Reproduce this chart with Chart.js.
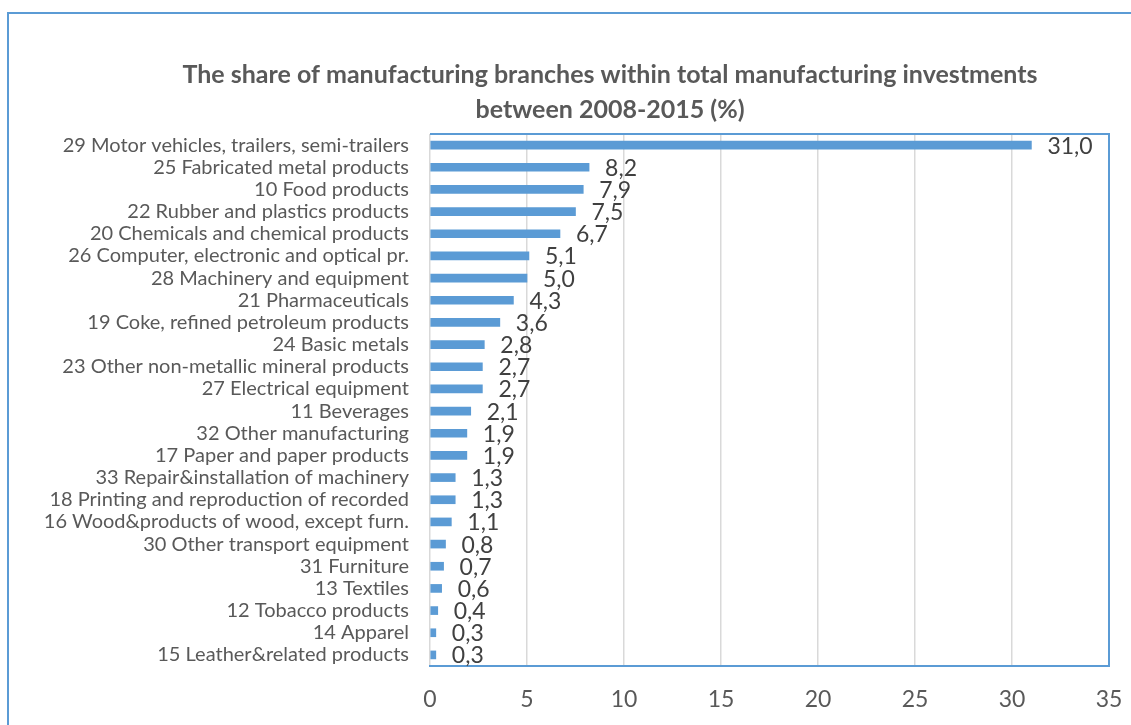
<!DOCTYPE html>
<html>
<head>
<meta charset="utf-8">
<script src="https://cdn.jsdelivr.net/npm/chart.js@4"></script>
<style>
html,body{margin:0;padding:0;background:#fff;}
#wrap{width:1131px;height:725px;position:relative;}
</style>
</head>
<body>
<div id="wrap"><canvas id="c" width="1131" height="725"></canvas></div>
<script>
const categories = [
  "29 Motor vehicles, trailers, semi-trailers",
  "25 Fabricated metal products",
  "10 Food products",
  "22 Rubber and plastics products",
  "20 Chemicals and chemical products",
  "26 Computer, electronic and optical pr.",
  "28 Machinery and equipment",
  "21 Pharmaceuticals",
  "19 Coke, refined petroleum products",
  "24 Basic metals",
  "23 Other non-metallic mineral products",
  "27 Electrical equipment",
  "11 Beverages",
  "32 Other manufacturing",
  "17 Paper and paper products",
  "33 Repair&installation of machinery",
  "18 Printing and reproduction of recorded",
  "16 Wood&products of wood, except furn.",
  "30 Other transport equipment",
  "31 Furniture",
  "13 Textiles",
  "12 Tobacco products",
  "14 Apparel",
  "15 Leather&related products"
];
const shares = [31.0, 8.2, 7.9, 7.5, 6.7, 5.1, 5.0, 4.3, 3.6, 2.8, 2.7, 2.7, 2.1, 1.9, 1.9, 1.3, 1.3, 1.1, 0.8, 0.7, 0.6, 0.4, 0.3, 0.3];
const titleLines = ["The share of manufacturing branches within total manufacturing investments", "between 2008-2015 (%)"];
const xMin = 0, xMax = 35, xStep = 5;

const FONT = "Lato, 'Open Sans', sans-serif";
const BLUE = "#5B9BD5";

const framePlugin = {
  id: 'frame',
  beforeDraw(chart) {
    const ctx = chart.ctx;
    ctx.save();
    ctx.fillStyle = '#fff';
    ctx.fillRect(0, 0, chart.width, chart.height);
    ctx.strokeStyle = BLUE;
    ctx.lineWidth = 2;
    ctx.strokeRect(8, 13, chart.width + 20, chart.height + 20);
    // title
    ctx.fillStyle = '#595959';
    ctx.font = "bold 25px " + FONT;
    ctx.textAlign = 'center';
    ctx.textBaseline = 'middle';
    ctx.fillText(titleLines[0], 610, 75);
    ctx.fillText(titleLines[1], 610, 110);
    ctx.restore();
  },
  afterDatasetsDraw(chart) {
    const ctx = chart.ctx;
    const a = chart.chartArea;
    ctx.save();
    ctx.strokeStyle = BLUE;
    ctx.lineWidth = 2;
    ctx.beginPath();
    ctx.moveTo(a.left, a.top);
    ctx.lineTo(a.right, a.top);
    ctx.lineTo(a.right, a.bottom);
    ctx.lineTo(a.left - 1, a.bottom);
    ctx.stroke();
    // data labels
    const meta = chart.getDatasetMeta(0);
    ctx.fillStyle = '#404040';
    ctx.font = "23px " + FONT;
    ctx.textAlign = 'left';
    ctx.textBaseline = 'middle';
    meta.data.forEach((bar, i) => {
      const v = chart.data.datasets[0].data[i];
      ctx.fillText(v.toFixed(1).replace('.', ','), bar.x + 16, bar.y + 1);
    });
    ctx.restore();
  }
};

new Chart(document.getElementById('c'), {
  type: 'bar',
  data: {
    labels: categories,
    datasets: [{
      data: shares,
      backgroundColor: BLUE,
      barThickness: 8,
      borderWidth: 0
    }]
  },
  options: {
    indexAxis: 'y',
    responsive: false,
    animation: false,
    layout: { padding: { top: 134, left: 0, right: 22, bottom: 0 } },
    plugins: { legend: { display: false }, title: { display: false }, tooltip: { enabled: false } },
    scales: {
      x: {
        min: xMin, max: xMax,
        afterFit(scale) { scale.height = 59; scale.paddingLeft = 0; scale.paddingRight = 0; },
        ticks: { stepSize: xStep, padding: 20, color: '#595959', font: { family: FONT, size: 23 } },
        grid: { color: '#d9d9d9', lineWidth: 1.5, drawTicks: false },
        border: { display: false }
      },
      y: {
        afterFit(scale) { scale.width = 430; },
        ticks: { padding: 21, color: '#595959', font: { family: FONT, size: 20 }, autoSkip: false },
        grid: { display: false, drawTicks: false },
        border: { display: false }
      }
    }
  },
  plugins: [framePlugin]
});
</script>
</body>
</html>
